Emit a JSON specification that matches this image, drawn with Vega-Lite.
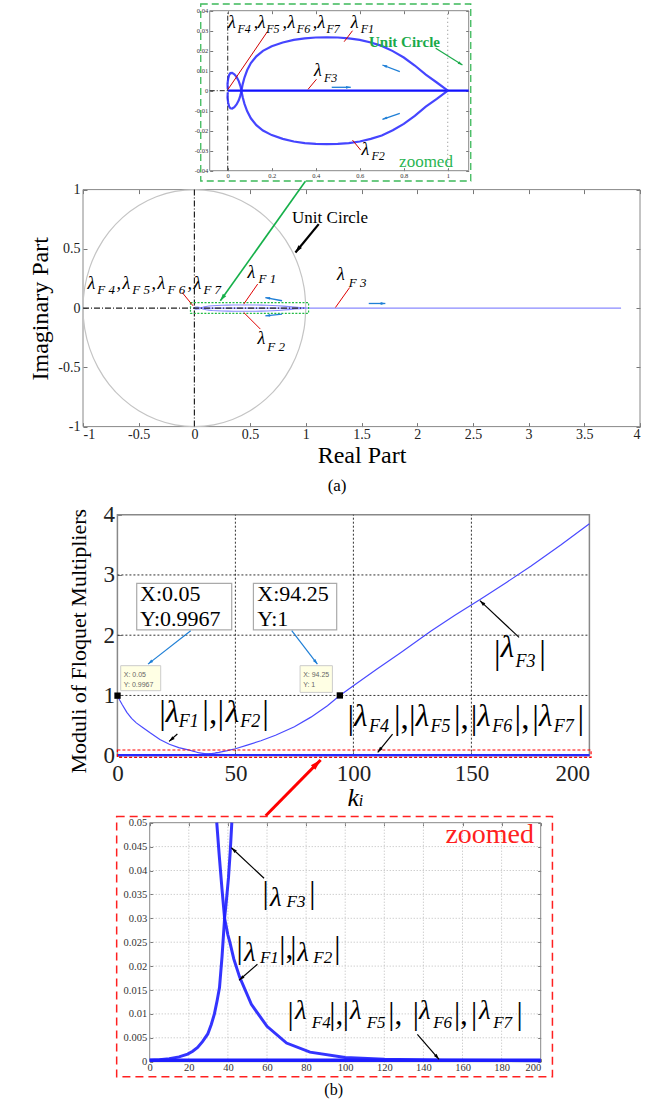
{
"$schema":"https://vega.github.io/schema/vega-lite/v6.json",
"padding":0,"spacing":0,"bounds":"flush",
"config":{"font":"Liberation Serif","view":{"stroke":null},"axis":{"domain":false,"grid":false,"labelFont":"Liberation Serif","titleFont":"Liberation Serif","titleFontWeight":"normal","titleColor":"#000","labelColor":"#222","tickColor":"#777"}},
"datasets":{
"traj":[{"s":"F1","i":1,"x":1,"y":0},{"s":"F1","i":2,"x":0.95,"y":0.0041},{"s":"F1","i":3,"x":0.9,"y":0.008},{"s":"F1","i":4,"x":0.85,"y":0.0126},{"s":"F1","i":5,"x":0.8,"y":0.0166},{"s":"F1","i":6,"x":0.75,"y":0.0198},{"s":"F1","i":7,"x":0.7,"y":0.0224},{"s":"F1","i":8,"x":0.65,"y":0.0241},{"s":"F1","i":9,"x":0.6,"y":0.0254},{"s":"F1","i":10,"x":0.55,"y":0.0262},{"s":"F1","i":11,"x":0.5,"y":0.0266},{"s":"F1","i":12,"x":0.45,"y":0.0267},{"s":"F1","i":13,"x":0.4,"y":0.0266},{"s":"F1","i":14,"x":0.35,"y":0.0262},{"s":"F1","i":15,"x":0.3,"y":0.0254},{"s":"F1","i":16,"x":0.25,"y":0.0241},{"s":"F1","i":17,"x":0.2,"y":0.0222},{"s":"F1","i":18,"x":0.16,"y":0.0199},{"s":"F1","i":19,"x":0.13,"y":0.0172},{"s":"F1","i":20,"x":0.105,"y":0.0138},{"s":"F1","i":21,"x":0.088,"y":0.0102},{"s":"F1","i":22,"x":0.076,"y":0.0066},{"s":"F1","i":23,"x":0.068,"y":0.0033},{"s":"F1","i":24,"x":0.063,"y":0.0005},{"s":"F1","i":25,"x":0.058,"y":-0.0022},{"s":"F1","i":26,"x":0.05,"y":-0.0048},{"s":"F1","i":27,"x":0.04,"y":-0.0069},{"s":"F1","i":28,"x":0.03,"y":-0.0082},{"s":"F1","i":29,"x":0.02,"y":-0.0089},{"s":"F1","i":30,"x":0.012,"y":-0.0088},{"s":"F1","i":31,"x":0.006,"y":-0.0078},{"s":"F1","i":32,"x":0.002,"y":-0.006},{"s":"F1","i":33,"x":-0.001,"y":-0.0035},{"s":"F1","i":34,"x":0,"y":-0.0008},
{"s":"F2","i":1,"x":1,"y":0},{"s":"F2","i":2,"x":0.95,"y":-0.0041},{"s":"F2","i":3,"x":0.9,"y":-0.008},{"s":"F2","i":4,"x":0.85,"y":-0.0126},{"s":"F2","i":5,"x":0.8,"y":-0.0166},{"s":"F2","i":6,"x":0.75,"y":-0.0198},{"s":"F2","i":7,"x":0.7,"y":-0.0224},{"s":"F2","i":8,"x":0.65,"y":-0.0241},{"s":"F2","i":9,"x":0.6,"y":-0.0254},{"s":"F2","i":10,"x":0.55,"y":-0.0262},{"s":"F2","i":11,"x":0.5,"y":-0.0266},{"s":"F2","i":12,"x":0.45,"y":-0.0267},{"s":"F2","i":13,"x":0.4,"y":-0.0266},{"s":"F2","i":14,"x":0.35,"y":-0.0262},{"s":"F2","i":15,"x":0.3,"y":-0.0254},{"s":"F2","i":16,"x":0.25,"y":-0.0241},{"s":"F2","i":17,"x":0.2,"y":-0.0222},{"s":"F2","i":18,"x":0.16,"y":-0.0199},{"s":"F2","i":19,"x":0.13,"y":-0.0172},{"s":"F2","i":20,"x":0.105,"y":-0.0138},{"s":"F2","i":21,"x":0.088,"y":-0.0102},{"s":"F2","i":22,"x":0.076,"y":-0.0066},{"s":"F2","i":23,"x":0.068,"y":-0.0033},{"s":"F2","i":24,"x":0.063,"y":-0.0005},{"s":"F2","i":25,"x":0.058,"y":0.0022},{"s":"F2","i":26,"x":0.05,"y":0.0048},{"s":"F2","i":27,"x":0.04,"y":0.0069},{"s":"F2","i":28,"x":0.03,"y":0.0082},{"s":"F2","i":29,"x":0.02,"y":0.0089},{"s":"F2","i":30,"x":0.012,"y":0.0088},{"s":"F2","i":31,"x":0.006,"y":0.0078},{"s":"F2","i":32,"x":0.002,"y":0.006},{"s":"F2","i":33,"x":-0.001,"y":0.0035},{"s":"F2","i":34,"x":0,"y":0.0008}],
"uc":[{"i":0,"x":1,"y":0},{"i":1,"x":0.9848,"y":0.1736},{"i":2,"x":0.9397,"y":0.342},{"i":3,"x":0.866,"y":0.5},{"i":4,"x":0.766,"y":0.6428},{"i":5,"x":0.6428,"y":0.766},{"i":6,"x":0.5,"y":0.866},{"i":7,"x":0.342,"y":0.9397},{"i":8,"x":0.1736,"y":0.9848},{"i":9,"x":0,"y":1},{"i":10,"x":-0.1736,"y":0.9848},{"i":11,"x":-0.342,"y":0.9397},{"i":12,"x":-0.5,"y":0.866},{"i":13,"x":-0.6428,"y":0.766},{"i":14,"x":-0.766,"y":0.6428},{"i":15,"x":-0.866,"y":0.5},{"i":16,"x":-0.9397,"y":0.342},{"i":17,"x":-0.9848,"y":0.1736},{"i":18,"x":-1,"y":0},{"i":19,"x":-0.9848,"y":-0.1736},{"i":20,"x":-0.9397,"y":-0.342},{"i":21,"x":-0.866,"y":-0.5},{"i":22,"x":-0.766,"y":-0.6428},{"i":23,"x":-0.6428,"y":-0.766},{"i":24,"x":-0.5,"y":-0.866},{"i":25,"x":-0.342,"y":-0.9397},{"i":26,"x":-0.1736,"y":-0.9848},{"i":27,"x":0,"y":-1},{"i":28,"x":0.1736,"y":-0.9848},{"i":29,"x":0.342,"y":-0.9397},{"i":30,"x":0.5,"y":-0.866},{"i":31,"x":0.6428,"y":-0.766},{"i":32,"x":0.766,"y":-0.6428},{"i":33,"x":0.866,"y":-0.5},{"i":34,"x":0.9397,"y":-0.342},{"i":35,"x":0.9848,"y":-0.1736},{"i":36,"x":1,"y":0}],
"mod":[{"s":"c1","x":0,"y":0.9967},{"s":"c1","x":1,"y":0.92},{"s":"c1","x":2,"y":0.85},{"s":"c1","x":4,"y":0.72},{"s":"c1","x":6,"y":0.62},{"s":"c1","x":8,"y":0.545},{"s":"c1","x":11,"y":0.46},{"s":"c1","x":14,"y":0.375},{"s":"c1","x":18,"y":0.27},{"s":"c1","x":22,"y":0.19},{"s":"c1","x":26,"y":0.135},{"s":"c1","x":30,"y":0.098},{"s":"c1","x":31,"y":0.087},{"s":"c1","x":32,"y":0.076},{"s":"c1","x":33,"y":0.065},{"s":"c1","x":34,"y":0.053},{"s":"c1","x":34.3,"y":0.05},{"s":"c1","x":35.5,"y":0.0435},{"s":"c1","x":37,"y":0.036},{"s":"c1","x":38.3,"y":0.03},{"s":"c1","x":40,"y":0.0265},{"s":"c1","x":41,"y":0.025},{"s":"c1","x":43,"y":0.0215},{"s":"c1","x":46,"y":0.0177},{"s":"c1","x":52,"y":0.012},{"s":"c1","x":60,"y":0.0074},{"s":"c1","x":70,"y":0.0039},{"s":"c1","x":82,"y":0.002},{"s":"c1","x":100,"y":0.0009},{"s":"c1","x":120,"y":0.0005},{"s":"c1","x":150,"y":0.0003},{"s":"c1","x":200,"y":0.0002},
{"s":"c2","x":0,"y":0.0003},{"s":"c2","x":5,"y":0.0004},{"s":"c2","x":10,"y":0.0006},{"s":"c2","x":15,"y":0.001},{"s":"c2","x":19.4,"y":0.0016},{"s":"c2","x":22,"y":0.0022},{"s":"c2","x":24.5,"y":0.003},{"s":"c2","x":27,"y":0.0042},{"s":"c2","x":29.7,"y":0.0058},{"s":"c2","x":31.5,"y":0.0078},{"s":"c2","x":33.1,"y":0.01},{"s":"c2","x":34.5,"y":0.0128},{"s":"c2","x":35.7,"y":0.0155},{"s":"c2","x":37,"y":0.022},{"s":"c2","x":38.3,"y":0.03},{"s":"c2","x":39.3,"y":0.034},{"s":"c2","x":40.3,"y":0.0385},{"s":"c2","x":41.2,"y":0.044},{"s":"c2","x":42,"y":0.05},{"s":"c2","x":43,"y":0.056},{"s":"c2","x":46.6,"y":0.083},{"s":"c2","x":50,"y":0.115},{"s":"c2","x":55,"y":0.175},{"s":"c2","x":60.8,"y":0.249},{"s":"c2","x":67,"y":0.34},{"s":"c2","x":75,"y":0.48},{"s":"c2","x":82,"y":0.64},{"s":"c2","x":89,"y":0.83},{"s":"c2","x":94.25,"y":1},{"s":"c2","x":100,"y":1.16},{"s":"c2","x":110,"y":1.44},{"s":"c2","x":120,"y":1.71},{"s":"c2","x":132.9,"y":2.07},{"s":"c2","x":143,"y":2.33},{"s":"c2","x":154,"y":2.6},{"s":"c2","x":165,"y":2.88},{"s":"c2","x":175.3,"y":3.15},{"s":"c2","x":188,"y":3.5},{"s":"c2","x":200,"y":3.85}],
"p1pad":[{"x":-1.0318,"x2":-1.0273,"y":0.04535,"y2":0.0451}],
"p1frame":[{"x":-0.082,"x2":1.095,"y":-0.04,"y2":0.04}],
"p1dash":[{"x":0,"y":-0.04,"x2":0,"y2":0.04},{"x":-0.082,"y":0,"x2":0,"y2":0}],
"p1uc":[{"i":1,"x":0.9992,"y":-0.04},{"i":2,"x":1,"y":0},{"i":3,"x":0.9992,"y":0.04}],
"p1f3":[{"x":0,"y":0,"x2":1.095,"y2":0}],
"p1red":[{"x":0.18,"y":0.0295,"x2":0.0014,"y2":0.0007},{"x":0.567,"y":0.03,"x2":0.529,"y2":0.0245},{"x":0.403,"y":0.0057,"x2":0.365,"y2":0.0007},{"x":0.604,"y":-0.0297,"x2":0.567,"y2":-0.0247}],
"p1blue":[{"x":0.703,"y":0.01285,"x2":0.782,"y2":0.0095,"a":291},{"x":0.703,"y":-0.0143,"x2":0.782,"y2":-0.0113,"a":251},{"x":0.559,"y":0.0017,"x2":0.4726,"y2":0.0017,"a":90}],
"p1green":[{"x":1.0666,"y":0.01285,"x2":0.945,"y2":0.0212,"a":122}],
"p1border":[{"x":-0.1227,"x2":1.1043,"y":0.04335,"y2":-0.04515}],
"p1m":[{"x":0.0014,"y":0.0312,"t":"λ"},{"x":0.118,"y":0.0312,"t":","},{"x":0.1368,"y":0.0312,"t":"λ"},{"x":0.249,"y":0.0312,"t":","},{"x":0.2714,"y":0.0312,"t":"λ"},{"x":0.386,"y":0.0312,"t":","},{"x":0.4077,"y":0.0312,"t":"λ"},{"x":0.559,"y":0.0312,"t":"λ"},{"x":0.392,"y":0.00735,"t":"λ"},{"x":0.6075,"y":-0.03215,"t":"λ"}],
"p1s":[{"x":0.044,"y":0.0287,"t":"F4"},{"x":0.175,"y":0.0287,"t":"F5"},{"x":0.314,"y":0.0287,"t":"F6"},{"x":0.4487,"y":0.0287,"t":"F7"},{"x":0.604,"y":0.0287,"t":"F1"},{"x":0.4376,"y":0.0045,"t":"F3"},{"x":0.653,"y":-0.03465,"t":"F2"}],
"p1t":[{"x":0.642,"y":0.022,"t":"Unit Circle"}],
"p1z":[{"x":0.7787,"y":-0.038,"t":"zoomed"}],
"p2frame":[{"x":-1,"x2":4,"y":-1,"y2":1}],
"p2dash":[{"x":0,"y":-1,"x2":0,"y2":1},{"x":-1,"y":0,"x2":0.98,"y2":0}],
"p2f3":[{"x":0,"y":0,"x2":3.83,"y2":0}],
"p2rect":[{"x":-0.035,"x2":1.025,"y":0.046,"y2":-0.044}],
"p2red":[{"x":-0.11,"y":0.132,"x2":-0.012,"y2":0.019},{"x":0.568,"y":0.203,"x2":0.443,"y2":0.034},{"x":0.443,"y":-0.037,"x2":0.592,"y2":-0.177},{"x":1.394,"y":0.174,"x2":1.266,"y2":0.005}],
"p2blue":[{"x":0.637,"y":0.089,"x2":0.787,"y2":0.062,"a":281},{"x":0.637,"y":-0.065,"x2":0.787,"y2":-0.051,"a":264},{"x":1.714,"y":0.039,"x2":1.565,"y2":0.039,"a":90}],
"p2black":[{"x":0.907,"y":0.469,"x2":1.116,"y2":0.709,"a":219}],
"p2green":[{"x":0.233,"y":0.062,"x2":0.9964,"y2":1.07,"a":216}],
"p2m":[{"x":-0.96,"y":0.163,"t":"λ"},{"x":-0.7,"y":0.163,"t":","},{"x":-0.646,"y":0.163,"t":"λ"},{"x":-0.386,"y":0.163,"t":","},{"x":-0.332,"y":0.163,"t":"λ"},{"x":-0.063,"y":0.163,"t":","},{"x":-0.009,"y":0.163,"t":"λ"},{"x":0.476,"y":0.258,"t":"λ"},{"x":0.566,"y":-0.304,"t":"λ"},{"x":1.281,"y":0.236,"t":"λ"}],
"p2s":[{"x":-0.871,"y":0.121,"t":"F 4"},{"x":-0.557,"y":0.121,"t":"F 5"},{"x":-0.242,"y":0.121,"t":"F 6"},{"x":0.081,"y":0.121,"t":"F 7"},{"x":0.575,"y":0.216,"t":"F 1"},{"x":0.655,"y":-0.36,"t":"F 2"},{"x":1.385,"y":0.18,"t":"F 3"}],
"p2t":[{"x":0.877,"y":0.722,"t":"Unit Circle"}],
"p2c":[{"x":1.281,"y":-1.542,"t":"(a)"}],
"p3frame":[{"x":0,"x2":200,"y":0,"y2":4}],
"p3grid":[{"x":50,"y":0,"x2":50,"y2":4},{"x":100,"y":0,"x2":100,"y2":4},{"x":150,"y":0,"x2":150,"y2":4},{"x":0,"y":1,"x2":200,"y2":1},{"x":0,"y":2,"x2":200,"y2":2},{"x":0,"y":3,"x2":200,"y2":3}],
"p3low":[{"x":0,"y":0.01,"x2":200,"y2":0.01}],
"p3rect":[{"x":0,"x2":200.7,"y":0.095,"y2":-0.028}],
"p3box":[{"x":8.18,"x2":48.43,"y":2.86,"y2":2.09},{"x":57.63,"x2":92.92,"y":2.86,"y2":2.09}],
"p3boxt":[{"x":9.6,"y":2.573,"t":"X:0.05"},{"x":9.6,"y":2.158,"t":"Y:0.9967"},{"x":59.3,"y":2.573,"t":"X:94.25"},{"x":59.3,"y":2.158,"t":"Y:1"}],
"p3tip":[{"x":1.4,"x2":18.35,"y":1.494,"y2":1.079},{"x":77.4,"x2":91.1,"y":1.494,"y2":1.051}],
"p3tipt":[{"x":2.7,"y":1.311,"t":"X: 0.05"},{"x":2.7,"y":1.145,"t":"Y: 0.9967"},{"x":78.7,"y":1.311,"t":"X: 94.25"},{"x":78.7,"y":1.145,"t":"Y: 1"}],
"p3sq":[{"x":0.05,"y":0.9967},{"x":94.25,"y":1}],
"p3blue":[{"x":12.97,"y":1.52,"x2":31.06,"y2":2.075,"a":232},{"x":84.75,"y":1.52,"x2":73.86,"y2":2.075,"a":142}],
"p3black":[{"x":153.6,"y":2.573,"x2":170.2,"y2":1.963,"a":313},{"x":21.9,"y":0.237,"x2":25.4,"y2":0.36,"a":229},{"x":110.3,"y":0.055,"x2":116.6,"y2":0.36,"a":219}],
"p3red":[{"x":86.1,"y":-0.071,"x2":62.84,"y2":-0.996,"a":45}],
"p3b":[{"x":17.7,"y":0.534,"t":"|"},{"x":36,"y":0.534,"t":"|,"},{"x":42.4,"y":0.534,"t":"|"},{"x":61.4,"y":0.534,"t":"|"},{"x":159.6,"y":1.53,"t":"|"},{"x":178.7,"y":1.53,"t":"|"},{"x":97.5,"y":0.451,"t":"|"},{"x":117.2,"y":0.451,"t":"|,"},{"x":123.6,"y":0.451,"t":"|"},{"x":142.6,"y":0.451,"t":"|,"},{"x":149.7,"y":0.451,"t":"|"},{"x":168.3,"y":0.451,"t":"|,"},{"x":175.8,"y":0.451,"t":"|"},{"x":195,"y":0.451,"t":"|"}],
"p3m":[{"x":20.5,"y":0.553,"t":"λ"},{"x":45.9,"y":0.553,"t":"λ"},{"x":162.4,"y":1.632,"t":"λ"},{"x":100.3,"y":0.498,"t":"λ"},{"x":126.4,"y":0.498,"t":"λ"},{"x":152.5,"y":0.498,"t":"λ"},{"x":178.6,"y":0.498,"t":"λ"}],
"p3s":[{"x":26,"y":0.47,"t":"F1"},{"x":52.1,"y":0.47,"t":"F2"},{"x":168.7,"y":1.466,"t":"F3"},{"x":106.6,"y":0.387,"t":"F4"},{"x":132.7,"y":0.387,"t":"F5"},{"x":158.8,"y":0.387,"t":"F6"},{"x":184.9,"y":0.387,"t":"F7"}],
"p3k":[{"x":97.5,"y":-0.83,"t":"k"}],
"p3i":[{"x":102.3,"y":-0.83,"t":"i"}],
"p4pad":[{"x":-76.22,"x2":-75.7,"y":-0.0079,"y2":-0.00801}],
"p4frame":[{"x":0,"x2":200,"y":0,"y2":0.05}],
"p4grid":[{"x":20,"y":0,"x2":20,"y2":0.05},{"x":40,"y":0,"x2":40,"y2":0.05},{"x":60,"y":0,"x2":60,"y2":0.05},{"x":80,"y":0,"x2":80,"y2":0.05},{"x":100,"y":0,"x2":100,"y2":0.05},{"x":120,"y":0,"x2":120,"y2":0.05},{"x":140,"y":0,"x2":140,"y2":0.05},{"x":160,"y":0,"x2":160,"y2":0.05},{"x":180,"y":0,"x2":180,"y2":0.05},{"x":0,"y":0.005,"x2":200,"y2":0.005},{"x":0,"y":0.01,"x2":200,"y2":0.01},{"x":0,"y":0.015,"x2":200,"y2":0.015},{"x":0,"y":0.02,"x2":200,"y2":0.02},{"x":0,"y":0.025,"x2":200,"y2":0.025},{"x":0,"y":0.03,"x2":200,"y2":0.03},{"x":0,"y":0.035,"x2":200,"y2":0.035},{"x":0,"y":0.04,"x2":200,"y2":0.04},{"x":0,"y":0.045,"x2":200,"y2":0.045}],
"p4low":[{"x":0,"y":0.0003,"x2":200,"y2":0.0003}],
"p4border":[{"x":-16.9,"x2":206,"y":0.0513,"y2":-0.00314}],
"p4black":[{"x":41.8,"y":0.04477,"x2":58.5,"y2":0.03837,"a":313},{"x":45.7,"y":0.01703,"x2":55.1,"y2":0.02038,"a":229},{"x":148,"y":0.0005,"x2":136.9,"y2":0.00573,"a":139}],
"p4b":[{"x":57.7,"y":0.0332,"t":"|"},{"x":81.6,"y":0.0332,"t":"|"},{"x":44.45,"y":0.02178,"t":"|"},{"x":66.3,"y":0.02178,"t":"|,"},{"x":71.9,"y":0.02178,"t":"|"},{"x":94.4,"y":0.02178,"t":"|"},{"x":70.5,"y":0.00782,"t":"|"},{"x":91.9,"y":0.00782,"t":"|,"},{"x":98.7,"y":0.00782,"t":"|"},{"x":122,"y":0.00782,"t":"|,"},{"x":134.5,"y":0.00782,"t":"|"},{"x":155.6,"y":0.00782,"t":"|,"},{"x":164.3,"y":0.00782,"t":"|"},{"x":187.6,"y":0.00782,"t":"|"}],
"p4m":[{"x":61.5,"y":0.03257,"t":"λ"},{"x":48.2,"y":0.02107,"t":"λ"},{"x":75.5,"y":0.02107,"t":"λ"},{"x":74.3,"y":0.00887,"t":"λ"},{"x":102.5,"y":0.00887,"t":"λ"},{"x":137.7,"y":0.00887,"t":"λ"},{"x":168.4,"y":0.00887,"t":"λ"}],
"p4s":[{"x":70,"y":0.03236,"t":"F3"},{"x":56.4,"y":0.02071,"t":"F1"},{"x":83.7,"y":0.02071,"t":"F2"},{"x":82.9,"y":0.00711,"t":"F4"},{"x":111,"y":0.00711,"t":"F5"},{"x":145,"y":0.00711,"t":"F6"},{"x":175.7,"y":0.00711,"t":"F7"}],
"p4z":[{"x":196.6,"y":0.04582,"t":"zoomed"}],
"p4c":[{"x":94.1,"y":-0.00697,"t":"(b)"}]
},
"vconcat":[
{
"width":385.7,"height":170.7,
"resolve":{"axis":{"x":"independent","y":"independent"}},
"encoding":{
"x":{"field":"x","type":"quantitative","scale":{"domain":[-0.6578,1.095],"nice":false,"zero":false},"axis":null},
"y":{"field":"y","type":"quantitative","scale":{"domain":[-0.04,0.04535],"nice":false,"zero":false},"axis":null}
},
"layer":[
{"data":{"name":"p1pad"},"mark":{"type":"rect","color":"white"},"encoding":{"x2":{"field":"x2"},"y2":{"field":"y2"}}},
{"data":{"name":"p1frame"},"mark":{"type":"rect","fillOpacity":0,"stroke":"#888","strokeWidth":1},"encoding":{
"x":{"field":"x","type":"quantitative","scale":{"domain":[-0.6578,1.095],"nice":false,"zero":false},"axis":{"values":[0,0.2,0.4,0.6,0.8,1],"format":"~g","labelFontSize":6.5,"labelColor":"#333","tickSize":-3,"labelPadding":5,"title":null}},
"y":{"field":"y","type":"quantitative","scale":{"domain":[-0.04,0.04535],"nice":false,"zero":false},"axis":{"values":[-0.04,-0.03,-0.02,-0.01,0,0.01,0.02,0.03,0.04],"format":"~g","labelExpr":"replace(datum.label,'−','-')","labelFontSize":6.5,"labelColor":"#333","tickSize":-3,"labelPadding":5,"title":null,"offset":-126.7}},
"x2":{"field":"x2"},"y2":{"field":"y2"}}},
{"data":{"name":"p1frame"},"mark":{"type":"rect","opacity":0},"encoding":{
"x":{"field":"x","type":"quantitative","scale":{"domain":[-0.6578,1.095],"nice":false,"zero":false},"axis":{"orient":"top","values":[0,0.2,0.4,0.6,0.8,1],"labels":false,"tickSize":-3,"title":null,"offset":-10.7}},
"y":{"field":"y","type":"quantitative","scale":{"domain":[-0.04,0.04535],"nice":false,"zero":false},"axis":{"orient":"right","values":[-0.04,-0.03,-0.02,-0.01,0,0.01,0.02,0.03,0.04],"labels":false,"tickSize":-3,"title":null}},
"x2":{"field":"x2"},"y2":{"field":"y2"}}},
{"data":{"name":"p1dash"},"mark":{"type":"rule","color":"#222","strokeWidth":1,"strokeDash":[5,2,1,2]},"encoding":{"x2":{"field":"x2"},"y2":{"field":"y2"}}},
{"data":{"name":"p1uc"},"mark":{"type":"line","color":"#999","strokeWidth":1.2,"strokeDash":[1,3]},"encoding":{"order":{"field":"i"}}},
{"data":{"name":"p1f3"},"mark":{"type":"rule","color":"#1010ff","strokeWidth":2.2},"encoding":{"x2":{"field":"x2"},"y2":{"field":"y2"}}},
{"data":{"name":"traj"},"mark":{"type":"line","color":"#2424ff","strokeWidth":2.2,"opacity":0.85},"encoding":{"detail":{"field":"s"},"order":{"field":"i"}}},
{"data":{"name":"p1red"},"mark":{"type":"rule","color":"#d00000","strokeWidth":1},"encoding":{"x2":{"field":"x2"},"y2":{"field":"y2"}}},
{"data":{"name":"p1blue"},"mark":{"type":"rule","color":"#1f7fd6","strokeWidth":1.3},"encoding":{"x2":{"field":"x2"},"y2":{"field":"y2"}}},
{"data":{"name":"p1blue"},"mark":{"type":"point","shape":"M0,0L-0.45,1.5L0.45,1.5Z","filled":true,"color":"#1f7fd6","size":40,"opacity":1},"encoding":{"angle":{"field":"a","type":"quantitative","scale":null}}},
{"data":{"name":"p1green"},"mark":{"type":"rule","color":"#1aaa4a","strokeWidth":1.2},"encoding":{"x2":{"field":"x2"},"y2":{"field":"y2"}}},
{"data":{"name":"p1green"},"mark":{"type":"point","shape":"M0,0L-0.45,1.5L0.45,1.5Z","filled":true,"color":"#1aaa4a","size":40,"opacity":1},"encoding":{"angle":{"field":"a","type":"quantitative","scale":null}}},
{"data":{"name":"p1border"},"mark":{"type":"rect","fillOpacity":0,"stroke":"#3cb95a","strokeWidth":1.3,"strokeDash":[7,4]},"encoding":{"x2":{"field":"x2"},"y2":{"field":"y2"}}},
{"data":{"name":"p1m"},"mark":{"type":"text","fontSize":18,"fontStyle":"italic","align":"left","baseline":"alphabetic"},"encoding":{"text":{"field":"t","type":"nominal"}}},
{"data":{"name":"p1s"},"mark":{"type":"text","fontSize":12,"fontStyle":"italic","align":"left","baseline":"alphabetic"},"encoding":{"text":{"field":"t","type":"nominal"}}},
{"data":{"name":"p1t"},"mark":{"type":"text","fontSize":15,"fontWeight":"bold","color":"#1aaa4a","align":"left","baseline":"alphabetic"},"encoding":{"text":{"field":"t","type":"nominal"}}},
{"data":{"name":"p1z"},"mark":{"type":"text","fontSize":17,"color":"#2ab552","align":"left","baseline":"alphabetic"},"encoding":{"text":{"field":"t","type":"nominal"}}}
]
},
{
"width":557,"height":255.6,
"resolve":{"axis":{"x":"independent","y":"independent"}},
"encoding":{
"x":{"field":"x","type":"quantitative","scale":{"domain":[-1,4],"nice":false,"zero":false},"axis":null},
"y":{"field":"y","type":"quantitative","scale":{"domain":[-1,1.157],"nice":false,"zero":false},"axis":null}
},
"layer":[
{"data":{"name":"p2frame"},"mark":{"type":"rect","fillOpacity":0,"stroke":"#888","strokeWidth":1},"encoding":{
"x":{"field":"x","type":"quantitative","scale":{"domain":[-1,4],"nice":false,"zero":false},"axis":{"values":[-1,-0.5,0,0.5,1,1.5,2,2.5,3,3.5,4],"format":"~g","labelExpr":"replace(datum.label,'−','-')","labelFontSize":14,"tickSize":-4,"labelPadding":5,"title":"Real Part","titleFontSize":24,"titlePadding":2}},
"y":{"field":"y","type":"quantitative","scale":{"domain":[-1,1.157],"nice":false,"zero":false},"axis":{"values":[-1,-0.5,0,0.5,1],"format":"~g","labelExpr":"replace(datum.label,'−','-')","labelFontSize":14,"tickSize":-4,"labelPadding":7,"title":"Imaginary Part","titleFontSize":24,"titlePadding":5,"titleY":137.3}},
"x2":{"field":"x2"},"y2":{"field":"y2"}}},
{"data":{"name":"p2frame"},"mark":{"type":"rect","opacity":0},"encoding":{
"x":{"field":"x","type":"quantitative","scale":{"domain":[-1,4],"nice":false,"zero":false},"axis":{"orient":"top","values":[-1,-0.5,0,0.5,1,1.5,2,2.5,3,3.5,4],"labels":false,"tickSize":-4,"title":null,"offset":-18.6}},
"y":{"field":"y","type":"quantitative","scale":{"domain":[-1,1.157],"nice":false,"zero":false},"axis":{"orient":"right","values":[-1,-0.5,0,0.5,1],"labels":false,"tickSize":-4,"title":null}},
"x2":{"field":"x2"},"y2":{"field":"y2"}}},
{"data":{"name":"uc"},"mark":{"type":"line","color":"#c4c4c4","strokeWidth":1.2,"interpolate":"catmull-rom"},"encoding":{"order":{"field":"i"}}},
{"data":{"name":"p2f3"},"mark":{"type":"rule","color":"#8a8aff","strokeWidth":1.3},"encoding":{"x2":{"field":"x2"},"y2":{"field":"y2"}}},
{"data":{"name":"traj"},"mark":{"type":"line","color":"#8a8aff","strokeWidth":1.1},"encoding":{"detail":{"field":"s"},"order":{"field":"i"}}},
{"data":{"name":"p2dash"},"mark":{"type":"rule","color":"#222","strokeWidth":1.2,"strokeDash":[6,2,1,2]},"encoding":{"x2":{"field":"x2"},"y2":{"field":"y2"}}},
{"data":{"name":"p2rect"},"mark":{"type":"rect","fillOpacity":0,"stroke":"#22bb44","strokeWidth":1.2,"strokeDash":[2,1.5]},"encoding":{"x2":{"field":"x2"},"y2":{"field":"y2"}}},
{"data":{"name":"p2red"},"mark":{"type":"rule","color":"#e00000","strokeWidth":1},"encoding":{"x2":{"field":"x2"},"y2":{"field":"y2"}}},
{"data":{"name":"p2blue"},"mark":{"type":"rule","color":"#1f7fd6","strokeWidth":1.3},"encoding":{"x2":{"field":"x2"},"y2":{"field":"y2"}}},
{"data":{"name":"p2blue"},"mark":{"type":"point","shape":"M0,0L-0.45,1.5L0.45,1.5Z","filled":true,"color":"#1f7fd6","size":40,"opacity":1},"encoding":{"angle":{"field":"a","type":"quantitative","scale":null}}},
{"data":{"name":"p2black"},"mark":{"type":"rule","color":"#000","strokeWidth":2.2},"encoding":{"x2":{"field":"x2"},"y2":{"field":"y2"}}},
{"data":{"name":"p2black"},"mark":{"type":"point","shape":"M0,0L-0.45,1.5L0.45,1.5Z","filled":true,"color":"#000","size":100,"opacity":1},"encoding":{"angle":{"field":"a","type":"quantitative","scale":null}}},
{"data":{"name":"p2green"},"mark":{"type":"rule","color":"#16b04a","strokeWidth":1.6},"encoding":{"x2":{"field":"x2"},"y2":{"field":"y2"}}},
{"data":{"name":"p2green"},"mark":{"type":"point","shape":"M0,0L-0.45,1.5L0.45,1.5Z","filled":true,"color":"#16b04a","size":90,"opacity":1},"encoding":{"angle":{"field":"a","type":"quantitative","scale":null}}},
{"data":{"name":"p2m"},"mark":{"type":"text","fontSize":18,"fontStyle":"italic","align":"left","baseline":"alphabetic"},"encoding":{"text":{"field":"t","type":"nominal"}}},
{"data":{"name":"p2s"},"mark":{"type":"text","fontSize":13,"fontStyle":"italic","align":"left","baseline":"alphabetic"},"encoding":{"text":{"field":"t","type":"nominal"}}},
{"data":{"name":"p2t"},"mark":{"type":"text","fontSize":17,"align":"left","baseline":"alphabetic"},"encoding":{"text":{"field":"t","type":"nominal"}}},
{"data":{"name":"p2c"},"mark":{"type":"text","fontSize":17,"align":"center","baseline":"alphabetic"},"encoding":{"text":{"field":"t","type":"nominal"}}}
]
},
{
"width":506.4,"height":328.7,
"encoding":{
"x":{"field":"x","type":"quantitative","scale":{"domain":[-14.58,200],"nice":false,"zero":false},"axis":{"values":[0,50,100,150,200],"labelFontSize":23,"tickSize":-4,"labelPadding":11,"title":null}},
"y":{"field":"y","type":"quantitative","scale":{"domain":[0,5.4556],"nice":false,"zero":false},"axis":{"values":[0,1,2,3,4],"labelFontSize":23,"tickSize":-4,"labelPadding":7,"title":"Moduli  of Floquet Multipliers","titleFontSize":22,"titlePadding":12,"titleY":213.7,"offset":-34.4}}
},
"layer":[
{"data":{"name":"p3frame"},"mark":{"type":"rect","fillOpacity":0,"stroke":"#888","strokeWidth":1.5},"encoding":{"x2":{"field":"x2"},"y2":{"field":"y2"}}},
{"data":{"name":"p3grid"},"mark":{"type":"rule","color":"#333","strokeWidth":1,"strokeDash":[2,2]},"encoding":{"x2":{"field":"x2"},"y2":{"field":"y2"}}},
{"data":{"name":"mod"},"mark":{"type":"line","color":"#4a4aff","strokeWidth":1.2},"encoding":{"detail":{"field":"s"}}},
{"data":{"name":"p3low"},"mark":{"type":"rule","color":"#2a2aff","strokeWidth":2},"encoding":{"x2":{"field":"x2"},"y2":{"field":"y2"}}},
{"data":{"name":"p3rect"},"mark":{"type":"rect","fillOpacity":0,"stroke":"#ff0000","strokeWidth":1.2,"strokeDash":[3,2]},"encoding":{"x2":{"field":"x2"},"y2":{"field":"y2"}}},
{"data":{"name":"p3box"},"mark":{"type":"rect","fill":"white","stroke":"#aaa","strokeWidth":1.2},"encoding":{"x2":{"field":"x2"},"y2":{"field":"y2"}}},
{"data":{"name":"p3boxt"},"mark":{"type":"text","fontSize":22,"align":"left","baseline":"alphabetic"},"encoding":{"text":{"field":"t","type":"nominal"}}},
{"data":{"name":"p3tip"},"mark":{"type":"rect","fill":"#ffffe4","stroke":"#ccc","strokeWidth":1},"encoding":{"x2":{"field":"x2"},"y2":{"field":"y2"}}},
{"data":{"name":"p3tipt"},"mark":{"type":"text","font":"Liberation Sans","fontSize":7,"color":"#666","align":"left","baseline":"alphabetic"},"encoding":{"text":{"field":"t","type":"nominal"}}},
{"data":{"name":"p3sq"},"mark":{"type":"point","shape":"square","filled":true,"color":"#000","size":40,"opacity":1}},
{"data":{"name":"p3blue"},"mark":{"type":"rule","color":"#1f7fd6","strokeWidth":1.2},"encoding":{"x2":{"field":"x2"},"y2":{"field":"y2"}}},
{"data":{"name":"p3blue"},"mark":{"type":"point","shape":"M0,0L-0.45,1.5L0.45,1.5Z","filled":true,"color":"#1f7fd6","size":50,"opacity":1},"encoding":{"angle":{"field":"a","type":"quantitative","scale":null}}},
{"data":{"name":"p3black"},"mark":{"type":"rule","color":"#000","strokeWidth":1.2},"encoding":{"x2":{"field":"x2"},"y2":{"field":"y2"}}},
{"data":{"name":"p3black"},"mark":{"type":"point","shape":"M0,0L-0.45,1.5L0.45,1.5Z","filled":true,"color":"#000","size":60,"opacity":1},"encoding":{"angle":{"field":"a","type":"quantitative","scale":null}}},
{"data":{"name":"p3red"},"mark":{"type":"rule","color":"#ff0000","strokeWidth":3},"encoding":{"x2":{"field":"x2"},"y2":{"field":"y2"}}},
{"data":{"name":"p3red"},"mark":{"type":"point","shape":"M0,0L-0.45,1.5L0.45,1.5Z","filled":true,"color":"#ff0000","size":200,"opacity":1},"encoding":{"angle":{"field":"a","type":"quantitative","scale":null}}},
{"data":{"name":"p3b"},"mark":{"type":"text","fontSize":33,"align":"left","baseline":"alphabetic"},"encoding":{"text":{"field":"t","type":"nominal"}}},
{"data":{"name":"p3m"},"mark":{"type":"text","fontSize":31,"fontStyle":"italic","align":"left","baseline":"alphabetic"},"encoding":{"text":{"field":"t","type":"nominal"}}},
{"data":{"name":"p3s"},"mark":{"type":"text","fontSize":18,"fontStyle":"italic","align":"left","baseline":"alphabetic"},"encoding":{"text":{"field":"t","type":"nominal"}}},
{"data":{"name":"p3k"},"mark":{"type":"text","fontSize":26,"fontStyle":"italic","align":"left","baseline":"alphabetic"},"encoding":{"text":{"field":"t","type":"nominal"}}},
{"data":{"name":"p3i"},"mark":{"type":"text","fontSize":16,"fontStyle":"italic","align":"left","baseline":"alphabetic"},"encoding":{"text":{"field":"t","type":"nominal"}}}
]
},
{
"width":457.7,"height":305.7,
"resolve":{"axis":{"x":"independent","y":"independent"}},
"encoding":{
"x":{"field":"x","type":"quantitative","scale":{"domain":[-34.12,200],"nice":false,"zero":false},"axis":null},
"y":{"field":"y","type":"quantitative","scale":{"domain":[0,0.063954],"nice":false,"zero":false},"axis":null}
},
"layer":[
{"data":{"name":"p4pad"},"mark":{"type":"rect","color":"white"},"encoding":{"x2":{"field":"x2"},"y2":{"field":"y2"}}},
{"data":{"name":"p4grid"},"mark":{"type":"rule","color":"#bbb","strokeWidth":1,"strokeDash":[1,2]},"encoding":{"x2":{"field":"x2"},"y2":{"field":"y2"}}},
{"data":{"name":"p4frame"},"mark":{"type":"rect","fillOpacity":0,"stroke":"#888","strokeWidth":1},"encoding":{
"x":{"field":"x","type":"quantitative","scale":{"domain":[-34.12,200],"nice":false,"zero":false},"axis":{"values":[0,20,40,60,80,100,120,140,160,180,200],"labelFontSize":10.5,"labelColor":"#333","tickSize":-3,"labelPadding":4,"title":null}},
"y":{"field":"y","type":"quantitative","scale":{"domain":[0,0.063954],"nice":false,"zero":false},"axis":{"values":[0,0.005,0.01,0.015,0.02,0.025,0.03,0.035,0.04,0.045,0.05],"format":"~g","labelFontSize":10.5,"labelColor":"#333","tickSize":-3,"labelPadding":6,"title":null,"offset":-66.7}},
"x2":{"field":"x2"},"y2":{"field":"y2"}}},
{"data":{"name":"p4frame"},"mark":{"type":"rect","opacity":0},"encoding":{
"x":{"field":"x","type":"quantitative","scale":{"domain":[-34.12,200],"nice":false,"zero":false},"axis":{"orient":"top","values":[0,20,40,60,80,100,120,140,160,180,200],"labels":false,"tickSize":-3,"title":null,"offset":-66.7}},
"y":{"field":"y","type":"quantitative","scale":{"domain":[0,0.063954],"nice":false,"zero":false},"axis":{"orient":"right","values":[0,0.005,0.01,0.015,0.02,0.025,0.03,0.035,0.04,0.045,0.05],"labels":false,"tickSize":-3,"title":null}},
"x2":{"field":"x2"},"y2":{"field":"y2"}}},
{"data":{"name":"mod"},"mark":{"type":"line","color":"#1e1eff","strokeWidth":3,"opacity":0.9},"transform":[{"filter":"datum.y <= 0.05"}],"encoding":{"detail":{"field":"s"}}},
{"data":{"name":"p4low"},"mark":{"type":"rule","color":"#1e1eff","strokeWidth":3.5},"encoding":{"x2":{"field":"x2"},"y2":{"field":"y2"}}},
{"data":{"name":"p4border"},"mark":{"type":"rect","fillOpacity":0,"stroke":"#ff2020","strokeWidth":1.5,"strokeDash":[8,5]},"encoding":{"x2":{"field":"x2"},"y2":{"field":"y2"}}},
{"data":{"name":"p4black"},"mark":{"type":"rule","color":"#000","strokeWidth":1.2},"encoding":{"x2":{"field":"x2"},"y2":{"field":"y2"}}},
{"data":{"name":"p4black"},"mark":{"type":"point","shape":"M0,0L-0.45,1.5L0.45,1.5Z","filled":true,"color":"#000","size":60,"opacity":1},"encoding":{"angle":{"field":"a","type":"quantitative","scale":null}}},
{"data":{"name":"p4b"},"mark":{"type":"text","fontSize":31,"align":"left","baseline":"alphabetic"},"encoding":{"text":{"field":"t","type":"nominal"}}},
{"data":{"name":"p4m"},"mark":{"type":"text","fontSize":27,"fontStyle":"italic","align":"left","baseline":"alphabetic"},"encoding":{"text":{"field":"t","type":"nominal"}}},
{"data":{"name":"p4s"},"mark":{"type":"text","fontSize":17,"fontStyle":"italic","align":"left","baseline":"alphabetic"},"encoding":{"text":{"field":"t","type":"nominal"}}},
{"data":{"name":"p4z"},"mark":{"type":"text","fontSize":28,"color":"#ff2020","align":"right","baseline":"alphabetic"},"encoding":{"text":{"field":"t","type":"nominal"}}},
{"data":{"name":"p4c"},"mark":{"type":"text","fontSize":16,"align":"center","baseline":"alphabetic"},"encoding":{"text":{"field":"t","type":"nominal"}}}
]
}
]
}
